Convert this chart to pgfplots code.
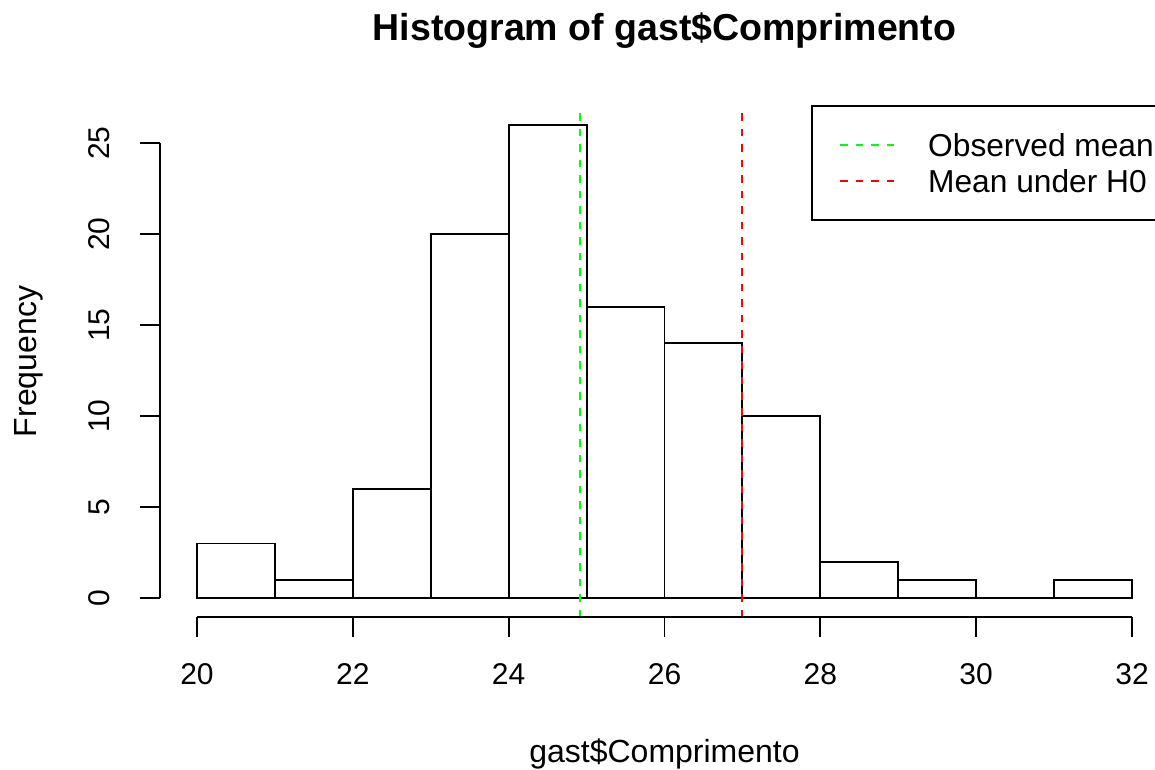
\documentclass[border=0pt]{standalone}
\usepackage{fontspec}
\setmainfont{Liberation Sans}
\usepackage{pgfplots}
\pgfplotsset{compat=1.18}
\definecolor{rgreen}{RGB}{0,255,0}
\definecolor{rred}{RGB}{255,0,0}
\begin{document}
\begin{tikzpicture}[x=1pt,y=1pt]
\begin{axis}[
  at={(159.6pt,152pt)}, anchor=south west,
  scale only axis, width=1009.8pt, height=511pt,
  xmin=19.52, xmax=32.48, ymin=-1.04, ymax=27.04,
  hide axis, clip=false,
]
\addplot[ybar interval, draw=black, fill=white, line width=1.9pt] coordinates {
(20,3) (21,1) (22,6) (23,20) (24,26) (25,16) (26,14) (27,10) (28,2) (29,1) (30,0) (31,1) (32,1)};
\addplot[rgreen, line width=1.9pt, dash pattern=on 7.5pt off 8pt] coordinates {(24.92,-1.04) (24.92,27.04)};
\addplot[rred, line width=1.9pt, dash pattern=on 7.5pt off 8pt] coordinates {(27.0,-1.04) (27.0,27.04)};
% x axis
\draw[line width=1.9pt] (axis cs:20,-1.04) -- (axis cs:32,-1.04);
\pgfplotsinvokeforeach{20,22,24,26,28,30,32}{
  \draw[line width=1.9pt] (axis cs:#1,-1.04) -- ([yshift=-20pt]axis cs:#1,-1.04);
  \node[anchor=base, inner sep=0pt, font=\fontsize{30}{32}\selectfont] at ([yshift=-67.5pt]axis cs:#1,-1.04) {#1};
}
% y axis
\draw[line width=1.9pt] (axis cs:19.52,0) -- (axis cs:19.52,25);
\pgfplotsinvokeforeach{0,5,10,15,20,25}{
  \draw[line width=1.9pt] (axis cs:19.52,#1) -- ([xshift=-20pt]axis cs:19.52,#1);
  \node[rotate=90, anchor=base, inner sep=0pt, font=\fontsize{30}{32}\selectfont] at ([xshift=-50pt]axis cs:19.52,#1) {#1};
}
\end{axis}
% titles
\node[anchor=base, inner sep=0pt, font=\bfseries\fontsize{37.5}{40}\selectfont] at (664.5,728) {Histogram of gast\$Comprimento};
\node[anchor=base, inner sep=0pt, font=\fontsize{32}{34}\selectfont] at (664.5,6.5) {gast\$Comprimento};
\node[rotate=90, anchor=base, inner sep=0pt, font=\fontsize{32}{34}\selectfont] at (36,407.5) {Frequency};
% legend
\draw[line width=1.9pt] (811.7,663) rectangle (1169.4,549);
\draw[rgreen, line width=1.9pt, dash pattern=on 7.5pt off 8pt] (840,624) -- (895,624);
\draw[rred, line width=1.9pt, dash pattern=on 7.5pt off 8pt] (840,588) -- (895,588);
\node[anchor=west, inner sep=0pt, font=\fontsize{31.7}{34}\selectfont] at (928,624) {Observed mean};
\node[anchor=west, inner sep=0pt, font=\fontsize{31.7}{34}\selectfont] at (928,588) {Mean under H0};
\pgfresetboundingbox
\useasboundingbox (0,0) rectangle (1155,769);
\end{tikzpicture}
\end{document}
